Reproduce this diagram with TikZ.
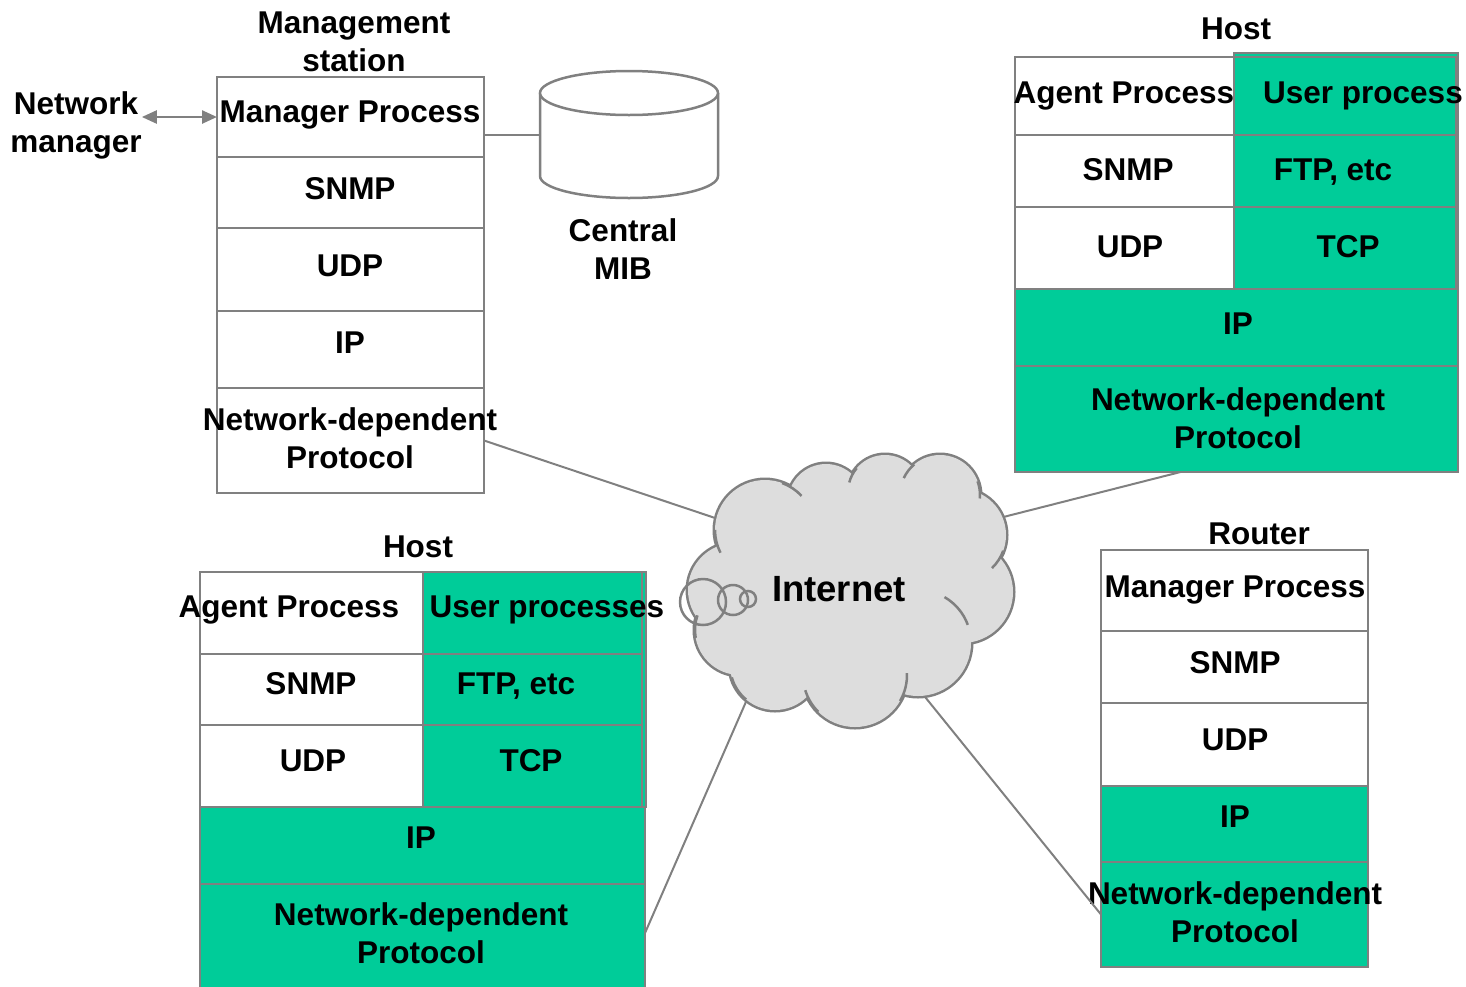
\documentclass[tikz,border=0pt]{standalone}
\usepackage{fontspec}
\setmainfont{Liberation Sans}
\usetikzlibrary{arrows.meta,fit,calc}
\definecolor{edge}{HTML}{808080}
\definecolor{layergreen}{HTML}{00CC99}
\definecolor{cloudfill}{HTML}{DDDDDD}
\tikzset{
  cell/.style={draw=edge, line width=2.5pt, fill=white, inner sep=0pt, outer sep=0pt},
  gcell/.style={cell, fill=layergreen},
  txt/.style={font=\fontsize{31.5}{38}\selectfont\bfseries, inner sep=0pt, anchor=base},
  txttwo/.style={font=\fontsize{31.5}{38}\selectfont\bfseries, inner sep=0pt, align=center},
  conn/.style={draw=edge, line width=2pt},
  puff/.style={draw=edge, line width=5pt},
  pufffill/.style={fill=cloudfill},
  tail/.style={draw=edge, line width=2.5pt},
}
\begin{document}
\begin{tikzpicture}[x=1pt,y=-1pt]
\useasboundingbox (0,0) rectangle (1466,986);

% ---------- Management station ----------
\node[txttwo] (ms-title) at (354,42) {Management\\station};
\node[cell, fit={(217,77)(484,157)}]  (ms-mp)   {};
\node[cell, fit={(217,157)(484,228)}] (ms-snmp) {};
\node[cell, fit={(217,228)(484,311)}] (ms-udp)  {};
\node[cell, fit={(217,311)(484,388)}] (ms-ip)   {};
\node[cell, fit={(217,388)(484,493)}] (ms-ndp)  {};
\node[txt] (ms-mp-t)   at (350,122.3) {Manager Process};
\node[txt] (ms-snmp-t) at (350,199.3) {SNMP};
\node[txt] (ms-udp-t)  at (350,276.3) {UDP};
\node[txt] (ms-ip-t)   at (350,353.3) {IP};
\node[txttwo] (ms-ndp-t) at (350,438) {Network-dependent\\Protocol};

% network manager
\node[txttwo] (nm) at (76,125.8) {Network\\manager};
\draw[draw=edge, line width=2.5pt, {Triangle[length=15pt,width=13pt]}-{Triangle[length=15pt,width=13pt]}]
  (nm.east |- ms-mp.west) -- (ms-mp.west);

% central MIB
\coordinate (mib-w) at (540,135);
\draw[conn] (ms-mp.east |- mib-w) -- (mib-w);
\draw[draw=edge, line width=2.5pt, fill=white]
  (540,93) -- (540,176) arc[start angle=180, end angle=360, x radius=89pt, y radius=22pt] -- (718,93);
\draw[draw=edge, line width=2.5pt, fill=white] (629,93) ellipse[x radius=89pt, y radius=22pt];
\node[txttwo] (mib-t) at (623,249) {Central\\MIB};

% ---------- Host (top right) ----------
\node[txt] (tr-title) at (1236,39.3) {Host};
\node[gcell, fit={(1234,53)(1458,289)}] (tr-ucol) {};
\node[cell,  fit={(1015,57)(1234,135)}]  (tr-ap)   {};
\node[gcell, fit={(1234,57)(1456,135)}]  (tr-up)   {};
\node[cell,  fit={(1015,135)(1234,207)}] (tr-snmp) {};
\node[gcell, fit={(1234,135)(1456,207)}] (tr-ftp)  {};
\node[cell,  fit={(1015,207)(1234,289)}] (tr-udp)  {};
\node[gcell, fit={(1234,207)(1456,289)}] (tr-tcp)  {};
\node[gcell, fit={(1015,289)(1458,366)}] (tr-ip)   {};
\node[gcell, fit={(1015,366)(1458,472)}] (tr-ndp)  {};
\node[txt] (tr-ap-t)   at (1124,103.3) {Agent Process};
\node[txt] (tr-up-t)   at (1363,103.3) {User process};
\node[txt] (tr-snmp-t) at (1128,180.3) {SNMP};
\node[txt] (tr-ftp-t)  at (1333,180.3) {FTP, etc};
\node[txt] (tr-udp-t)  at (1130,257.3) {UDP};
\node[txt] (tr-tcp-t)  at (1348,257.3) {TCP};
\node[txt] (tr-ip-t)   at (1238,334.3) {IP};
\node[txttwo] (tr-ndp-t) at (1238,418.5) {Network-dependent\\Protocol};

% ---------- Host (bottom left) ----------
\node[txt] (bl-title) at (418,557.3) {Host};
\node[gcell, fit={(423,572)(646,807)}] (bl-ucol) {};
\node[cell,  fit={(200,572)(423,654)}] (bl-ap)   {};
\node[gcell, fit={(423,572)(642,654)}] (bl-up)   {};
\node[cell,  fit={(200,654)(423,725)}] (bl-snmp) {};
\node[gcell, fit={(423,654)(642,725)}] (bl-ftp)  {};
\node[cell,  fit={(200,725)(423,807)}] (bl-udp)  {};
\node[gcell, fit={(423,725)(642,807)}] (bl-tcp)  {};
\node[gcell, fit={(200,807)(645,884)}] (bl-ip)   {};
\node[gcell, fit={(200,884)(645,992)}] (bl-ndp)  {};
\node[txt] (bl-ap-t)   at (289,617.3) {Agent Process};
\node[txt] (bl-up-t)   at (547,617.3) {User processes};
\node[txt] (bl-snmp-t) at (311,694.3) {SNMP};
\node[txt] (bl-ftp-t)  at (516,694.3) {FTP, etc};
\node[txt] (bl-udp-t)  at (313,771.3) {UDP};
\node[txt] (bl-tcp-t)  at (531,771.3) {TCP};
\node[txt] (bl-ip-t)   at (421,848.3) {IP};
\node[txttwo] (bl-ndp-t) at (421,933) {Network-dependent\\Protocol};

% ---------- Router ----------
\node[txt] (rt-title) at (1259,544.3) {Router};
\node[cell,  fit={(1101,550)(1368,631)}] (rt-mp)   {};
\node[cell,  fit={(1101,631)(1368,703)}] (rt-snmp) {};
\node[cell,  fit={(1101,703)(1368,786)}] (rt-udp)  {};
\node[gcell, fit={(1101,786)(1368,862)}] (rt-ip)   {};
\node[gcell, fit={(1101,862)(1368,967)}] (rt-ndp)  {};
\node[txt] (rt-mp-t)   at (1235,597.3) {Manager Process};
\node[txt] (rt-snmp-t) at (1235,673.3) {SNMP};
\node[txt] (rt-udp-t)  at (1235,750.3) {UDP};
\node[txt] (rt-ip-t)   at (1235,827.3) {IP};
\node[txttwo] (rt-ndp-t) at (1235,912) {Network-dependent\\Protocol};

% ---------- links to the Internet cloud ----------
\coordinate (cl-ms) at (730,523);
\coordinate (cl-tr) at (990,520.4);
\coordinate (cl-bl) at (752,688);
\coordinate (cl-rt) at (920,690.7);
\draw[conn] (ms-ndp.east) -- (cl-ms);
\draw[conn] ([xshift=-56pt]tr-ndp.south) -- (cl-tr);
\draw[conn] ([yshift=5pt]bl-ndp.east) -- (cl-bl);
\draw[conn] (rt-ndp.west) -- (cl-rt);

% ---------- Internet cloud ----------
\def\puffs{(765,530)/50, (826,502)/38, (885,492)/37, (940,495)/40,
  (960,535)/46, (962,592)/51, (918,643)/53, (855,675)/52,
  (775,665)/45, (740,630)/45, (735,590)/47}
\foreach \c/\r in \puffs { \draw[puff] \c circle[radius=\r pt]; }
\foreach \c/\r in \puffs { \fill[pufffill] \c circle[radius=\r pt]; }
\fill[pufffill] (850,590) ellipse[x radius=120pt, y radius=100pt];
% short arc ends of the puffs running into the cloud
\foreach \cx/\cy/\r/\a/\b in {765/530/50/70/43, 765/530/50/180/207,
  885/492/37/140/165, 940/495/40/130/155, 940/495/40/20/-5,
  960/535/46/-20/-46, 918/643/53/20/60, 855/675/52/-30/2,
  855/675/52/225/197, 775/665/45/230/196, 740/630/45/190/161}
  { \draw[tail] ($(\cx,\cy)+(\a:\r pt)$) arc[start angle=\a, end angle=\b, radius=\r pt]; }
\draw[draw=edge, line width=2.5pt] (703,602) circle[radius=23pt];
\draw[draw=edge, line width=2.5pt] (733,600) circle[radius=15pt];
\draw[draw=edge, line width=2.5pt] (748,599) circle[radius=8pt];
\node[font=\fontsize{36.5}{42}\selectfont\bfseries, inner sep=0pt, anchor=base] (internet) at (839,601) {Internet};
\end{tikzpicture}
\end{document}
